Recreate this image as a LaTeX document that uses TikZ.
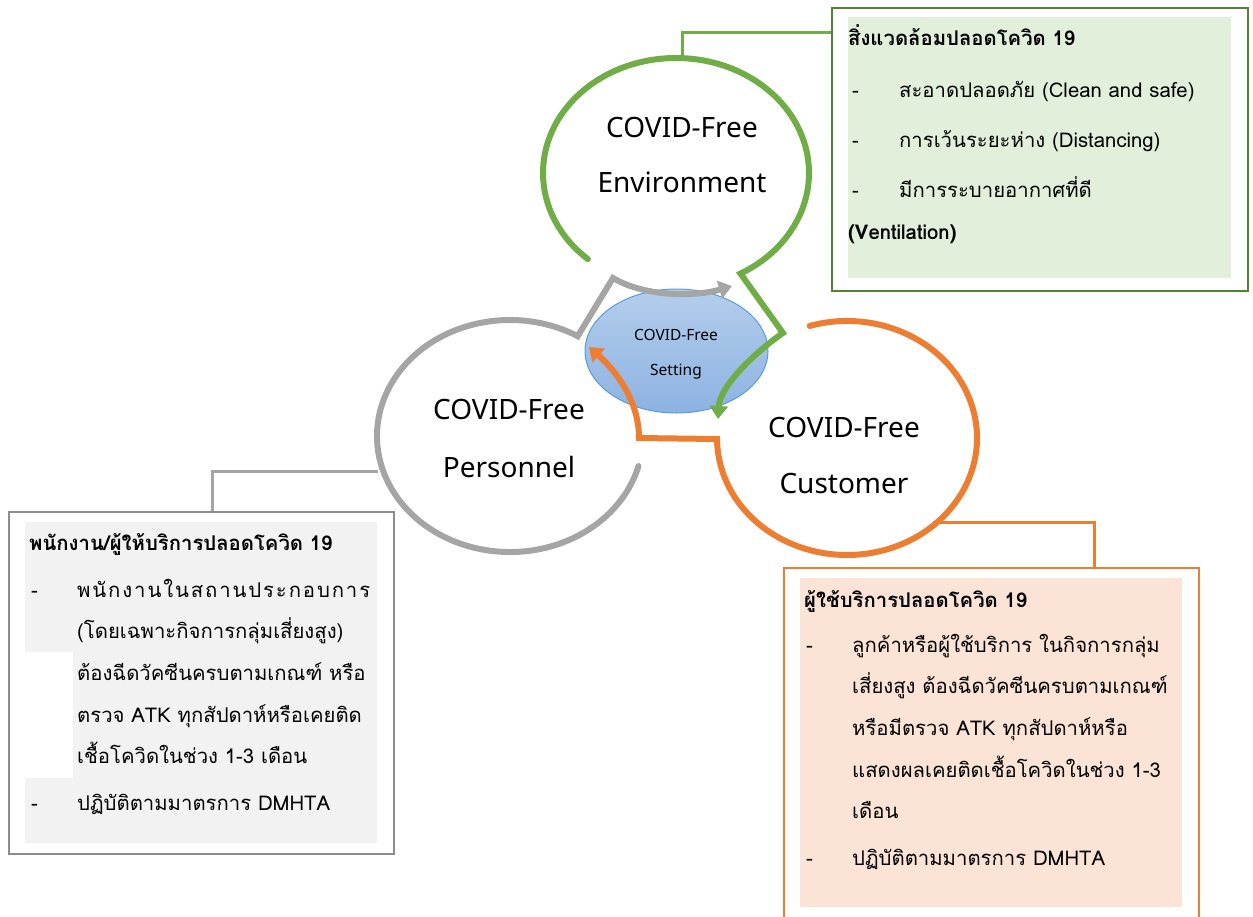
\documentclass[tikz,border=0pt]{standalone}
\usepackage{fontspec}
\setmainfont[Script=Thai]{Loma}
\newfontfamily\labfont{Noto Sans}
\usetikzlibrary{arrows.meta,shapes.geometric}
\definecolor{cgreen}{HTML}{70AD47}
\definecolor{cgray}{HTML}{A5A5A5}
\definecolor{corange}{HTML}{ED7D31}
\definecolor{gbord}{HTML}{548235}
\definecolor{gfill}{HTML}{E2EFDA}
\definecolor{grfill}{HTML}{F2F2F2}
\definecolor{grbord}{HTML}{8C8C8C}
\definecolor{ofill}{HTML}{FBE3D6}
\definecolor{eborder}{HTML}{5B9BD5}
\definecolor{etop}{HTML}{B4CEEC}
\definecolor{ebot}{HTML}{8DB2E2}
\begin{document}
\begin{tikzpicture}[x=1pt,y=1pt,yscale=-1,
  ring/.style={line width=6pt, line cap=round, line join=miter},
  tipped/.style={-{Triangle[width=18pt,length=13pt]}},
  callout/.style={line width=3pt},
  big/.style={anchor=base, inner sep=0pt, font=\labfont\fontsize{28}{30}\selectfont},
  txt/.style={anchor=base west, inner sep=0pt, font=\fontsize{20.3}{24}\selectfont},
  small/.style={anchor=base, inner sep=0pt, font=\labfont\fontsize{15.5}{18}\selectfont}]
\useasboundingbox (0,0) rectangle (1253,916);
% centres
\coordinate (env) at (676,173);
\coordinate (per) at (510,436);
\coordinate (cus) at (847,438);
% boxes
\node[draw=gbord, line width=2pt, fill=white, minimum width=416pt, minimum height=283pt, anchor=north west, inner sep=0pt] (envbox) at (831,7) {};
\fill[gfill] (848,17) rectangle (1231,278);
\node[draw=grbord, line width=2pt, fill=white, minimum width=385pt, minimum height=342pt, anchor=north west, inner sep=0pt] (perbox) at (8,511) {};
\fill[grfill] (25,522) -- (377,522) -- (377,843) -- (25,843) -- (25,778) -- (73,778) -- (73,652) -- (25,652) -- cycle;
\node[draw=corange, line width=2pt, fill=white, minimum width=415pt, minimum height=360pt, anchor=north west, inner sep=0pt] (cusbox) at (783,567) {};
\fill[ofill] (800,578) rectangle (1182,907);
% callout connectors
\coordinate (gA) at (682,59);
\coordinate (gB) at (682,32);
\draw[callout, cgreen] (gA) -- (gB) -- (gB -| envbox.west);
\coordinate (pA) at (378,471);
\coordinate (pB) at (212,471);
\draw[callout, cgray] (pA) -- (pB) -- (pB |- perbox.north);
\coordinate (oA) at (933,522);
\coordinate (oB) at (1094,522);
\draw[callout, corange] (oA) -- (oB) -- (oB |- cusbox.north);
% central ellipse
\node[ellipse, draw=eborder, line width=1pt, top color=etop, bottom color=ebot, minimum width=183pt, minimum height=124pt, inner sep=0pt] (set) at (676.5,351) {};
\node[small] (set1) at (676,340) {COVID-Free};
\node[small] (set2) at (676,375) {Setting};
% circles with arrows
\coordinate (gV) at (783,333);
\coordinate (gT) at (718,419);
\draw[ring, cgreen, tipped] ([shift={(131.5:133 and 115)}]env) arc[start angle=131.5, end angle=421, x radius=133, y radius=115] -- (gV) .. controls (758,350) and (720,385) .. (gT);
\coordinate (pV) at (613,278);
\coordinate (pT) at (732,286);
\draw[ring, cgray, tipped] ([shift={(15:133 and 116)}]per) arc[start angle=15, end angle=300.6, x radius=133, y radius=116] -- (pV) .. controls (645,297) and (695,297) .. (pT);
\coordinate (oV) at (639,438);
\coordinate (oT) at (589,347);
\draw[ring, corange, tipped] ([shift={(-106.7:130 and 117)}]cus) arc[start angle=-106.7, end angle=179.5, x radius=130, y radius=117] -- (oV) .. controls (639,400) and (615,370) .. (oT);
% circle labels
\node[big] (e1) at (682,137) {COVID-Free};
\node[big] (e2) at (682,192) {Environment};
\node[big] (p1) at (509,419) {COVID-Free};
\node[big] (p2) at (509,477) {Personnel};
\node[big] (c1) at (844,437) {COVID-Free};
\node[big] (c2) at (844,493) {Customer};
% green box text
\node[txt] (g0) at (848,45) {\textbf{สิ่งแวดล้อมปลอดโควิด 19}};
\node[txt] (gd1) at (852,97) {-};
\node[txt] (g1) at (899,97) {สะอาดปลอดภัย (Clean and safe)};
\node[txt] (gd2) at (852,147) {-};
\node[txt] (g2) at (899,147) {การเว้นระยะห่าง (Distancing)};
\node[txt] (gd3) at (852,197) {-};
\node[txt] (g3) at (899,197) {มีการระบายอากาศที่ดี};
\node[txt] (g4) at (848,239) {\textbf{(Ventilation)}};
% gray box text
\node[txt] (r0) at (29,550) {\textbf{พนักงาน/ผู้ให้บริการปลอดโควิด 19}};
\node[txt] (rd1) at (31,597) {-};
\node[txt] (r1) at (77,597) {\makebox[293pt][s]{พ\hfill นั\hfill ก\hfill ง\hfill า\hfill น\hfill ใ\hfill น\hfill ส\hfill ถ\hfill า\hfill น\hfill ป\hfill ร\hfill ะ\hfill ก\hfill อ\hfill บ\hfill ก\hfill า\hfill ร}};
\node[txt] (r2) at (77,638) {(โดยเฉพาะกิจการกลุ่มเสี่ยงสูง)};
\node[txt] (r3) at (77,680) {ต้องฉีดวัคซีนครบตามเกณฑ์ หรือ};
\node[txt] (r4) at (77,722) {ตรวจ ATK ทุกสัปดาห์หรือเคยติด};
\node[txt] (r5) at (77,763) {เชื้อโควิดในช่วง 1-3 เดือน};
\node[txt] (rd6) at (31,810) {-};
\node[txt] (r6) at (77,810) {ปฏิบัติตามมาตรการ DMHTA};
% orange box text
\node[txt] (o0) at (804,607) {\textbf{ผู้ใช้บริการปลอดโควิด 19}};
\node[txt] (od1) at (806,652) {-};
\node[txt] (o1) at (852,652) {ลูกค้าหรือผู้ใช้บริการ ในกิจการกลุ่ม};
\node[txt] (o2) at (852,693) {เสี่ยงสูง ต้องฉีดวัคซีนครบตามเกณฑ์};
\node[txt] (o3) at (852,735) {หรือมีตรวจ ATK ทุกสัปดาห์หรือ};
\node[txt] (o4) at (852,777) {แสดงผลเคยติดเชื้อโควิดในช่วง 1-3};
\node[txt] (o5) at (852,818) {เดือน};
\node[txt] (od6) at (806,865) {-};
\node[txt] (o6) at (852,865) {ปฏิบัติตามมาตรการ DMHTA};
\end{tikzpicture}
\end{document}
